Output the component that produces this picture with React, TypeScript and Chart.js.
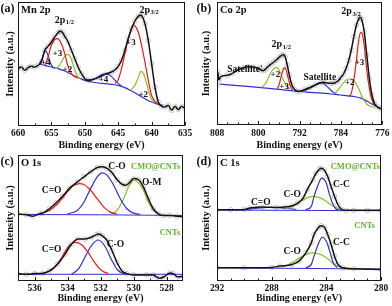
import { useEffect, useRef } from 'react';
import { Chart, registerables } from 'chart.js';

Chart.register(...registerables);

type Pt = [number, number];

// ---------------- (a) Mn 2p ----------------
const mnTicks = [660, 655, 650, 645, 640, 635];
const mnMinor = [657.5, 652.5, 647.5, 642.5, 637.5];
const mnTotal: Pt[] = [
  [660, 172], [659.5, 177], [659, 167], [658.5, 175], [658, 179], [657.5, 177], [657, 182], [656.5, 192],
  [656, 227], [655.5, 239], [655, 252], [654.5, 267], [654, 280], [653.7, 284], [653.4, 282], [653, 269],
  [652.5, 252], [652, 227], [651.5, 202], [651, 177], [650.5, 157], [650, 142], [649.5, 137], [649, 138],
  [648, 145], [647, 155], [646, 162], [645.5, 168], [645, 179], [644.5, 197], [644, 227], [643.5, 262],
  [643, 292], [642.5, 315], [642, 329], [641.7, 332], [641.4, 329], [641, 307], [640.5, 257], [640, 187],
  [639.5, 117], [639, 72], [638.5, 59], [638, 57], [637.5, 62], [637, 47], [636.5, 59], [636, 49],
  [635.5, 59], [635, 52],
];
const mnBackground: Pt[] = [
  [656.8, 187], [656, 182], [655, 177], [654, 172], [653, 165], [652, 155], [651, 145], [650, 137],
  [649, 132], [648, 129], [647, 127], [646, 125], [645, 122], [644, 115], [643, 105], [642, 94],
  [641, 82], [640, 72], [639, 65], [638.3, 62],
];
const mn4High: Pt[] = [
  [656.8, 187], [656.4, 202], [656.1, 219], [655.9, 225], [655.7, 222], [655.4, 205], [655.1, 187],
  [654.8, 177], [654.5, 173],
];
const mn4Low: Pt[] = [
  [650, 137], [649, 139], [648, 147], [647.5, 154], [647, 156], [646.5, 155], [646, 148], [645.5, 138],
  [645, 128], [644.5, 120],
];
const mn3High: Pt[] = [
  [656, 180], [655.5, 207], [655, 242], [654.5, 259], [654.2, 262], [653.9, 260], [653.5, 247],
  [653, 217], [652.5, 178], [652, 157], [651.5, 148], [651, 145],
];
const mn2High: Pt[] = [
  [654.35, 172], [654, 177], [653.5, 192], [653, 209], [652.6, 215], [652.2, 209], [651.8, 187],
  [651.4, 162], [651, 147], [650.6, 140],
];
const mn3Low: Pt[] = [
  [645.5, 127], [645, 139], [644.5, 172], [644, 217], [643.5, 262], [643, 295], [642.8, 303],
  [642.5, 301], [642, 282], [641.5, 242], [641, 192], [640.5, 137], [640, 92], [639.5, 74], [639, 67],
];
const mn2Low: Pt[] = [
  [643.1, 109], [642.5, 122], [642, 145], [641.6, 164], [641.2, 157], [640.8, 132], [640.4, 102],
  [640, 80], [639.5, 71],
];

// ---------------- (b) Co 2p ----------------
const coTicks = [808, 800, 792, 784, 776];
const coMinor = [806, 804, 802, 798, 796, 794, 790, 788, 786, 782, 780, 778];
const coTotal: Pt[] = [
  [808, 72], [807.85, 113], [807.65, 88], [807.3, 98], [806, 102], [805, 108], [804, 118], [803, 125],
  [802, 128], [801, 127], [800, 123], [799.5, 118], [799, 116], [798.5, 122], [798, 130], [797.5, 136],
  [797, 142], [796.5, 148], [796, 156], [795.5, 162], [795.2, 164], [794.8, 158], [794.4, 133],
  [794, 103], [793.5, 73], [793, 60], [792.5, 54], [792, 54], [791, 60], [790, 66], [789, 73],
  [788, 79], [787.5, 81], [787, 80], [786, 78], [785.5, 78], [785, 81], [784.5, 86], [784, 96],
  [783.5, 106], [783, 123], [782.5, 146], [782, 178], [781.5, 218], [781, 253], [780.5, 273],
  [780.3, 276], [780, 270], [779.5, 233], [779, 163], [778.5, 93], [778, 43], [777.5, 18], [777, 8],
  [776.5, 3], [776, 1],
];
const coBaseline: Pt[] = [
  [807.5, 76], [804, 71], [800, 66], [796, 60], [793, 55], [790, 51], [786, 46], [783, 41], [781, 37],
  [780, 33], [779, 25], [778, 16], [777, 8], [776.3, 3],
];
const coSatellite: Pt[] = [
  [792, 54], [791, 57], [790, 63], [789, 72], [788.5, 78], [788, 80], [787.5, 79], [787, 73],
  [786.5, 66], [786, 58], [785.5, 51], [785, 46], [784.5, 43],
];
const co2High: Pt[] = [
  [799.3, 66], [798.5, 80], [798, 96], [797.5, 112], [797, 123], [796.6, 126], [796.2, 123],
  [795.8, 113], [795.3, 93], [794.8, 76], [794.3, 66], [793.8, 60],
];
const co3High: Pt[] = [
  [796.3, 62], [795.9, 78], [795.5, 103], [795.1, 122], [794.9, 125], [794.6, 118], [794.2, 93],
  [793.8, 70], [793.4, 58],
];
const co2Low: Pt[] = [
  [785.5, 46], [785, 51], [784.5, 60], [784, 70], [783.5, 80], [783, 88], [782.5, 91], [782, 91],
  [781.5, 86], [781, 75], [780.5, 60], [780, 41], [779.5, 26], [779, 16], [778.5, 10], [777.5, 6],
];
const co3Low: Pt[] = [
  [782.5, 38], [782, 48], [781.5, 88], [781, 148], [780.6, 203], [780.2, 231], [779.8, 223],
  [779.4, 178], [779, 118], [778.5, 63], [778, 28], [777.5, 13], [777, 8],
];

// ---------------- (c) O 1s ----------------
const oTicks = [536, 534, 532, 530, 528];
const oMinor = [535, 533, 531, 529];
const oCmo: Pt[] = [
  [537, 199], [536.5, 197], [536.1, 193], [535.7, 200], [535.5, 202], [535.1, 215], [534.7, 232],
  [534.3, 252], [533.9, 275], [533.4, 295], [533, 310], [532.6, 325], [532.2, 338], [531.9, 340],
  [531.6, 335], [531.3, 322], [531, 302], [530.7, 288], [530.45, 285], [530.2, 295], [530, 305],
  [529.7, 302], [529.4, 280], [529.1, 245], [528.8, 215], [528.5, 200], [528.2, 195], [527.8, 195],
  [527.4, 193], [527, 192],
];
const oCmoCdO: Pt[] = [
  [535.7, 200], [535.1, 210], [534.6, 230], [534.1, 260], [533.7, 282], [533.3, 290], [533, 287],
  [532.6, 270], [532.2, 245], [531.8, 220], [531.4, 205], [531, 199],
];
const oCmoCO: Pt[] = [
  [534, 200], [533.4, 210], [533, 235], [532.6, 275], [532.2, 310], [531.9, 322], [531.6, 315],
  [531.2, 285], [530.8, 245], [530.4, 215], [530, 202], [529.6, 198],
];
const oCmoOM: Pt[] = [
  [531.4, 198], [531, 210], [530.6, 245], [530.3, 280], [530, 300], [529.65, 290], [529.4, 270],
  [529.1, 235], [528.8, 210], [528.4, 199],
];
const oCmoBase: Pt[] = [[537, 198], [532, 197], [527, 195]];
const oCnt: Pt[] = [
  [537, 22], [536.5, 20], [536, 22], [535.5, 23], [535.1, 30], [534.6, 50], [534.15, 80],
  [533.75, 110], [533.35, 125], [532.95, 125], [532.55, 130], [532.25, 138], [532.1, 140],
  [531.9, 135], [531.6, 120], [531.3, 90], [531, 55], [530.7, 30], [530.4, 22], [530, 18],
  [529.2, 18], [528.8, 18], [528.6, 12], [528.4, 8], [528.1, 14], [527.8, 24], [527.6, 22],
  [527.3, 12], [527, 14],
];
const oCntCdO: Pt[] = [
  [535.5, 22], [534.9, 35], [534.35, 70], [533.95, 102], [533.55, 115], [533.15, 108], [532.75, 85],
  [532.35, 55], [531.95, 32], [531.55, 22],
];
const oCntCO: Pt[] = [
  [533.75, 20], [533.35, 35], [532.95, 70], [532.55, 105], [532.15, 122], [531.75, 105],
  [531.35, 65], [530.95, 32], [530.5, 20],
];
const oCntBase: Pt[] = [[537, 20], [527, 20]];

// ---------------- (d) C 1s ----------------
const cTicks = [292, 288, 284, 280];
const cMinor = [291, 290, 289, 287, 286, 285, 283, 282, 281];
const cCmo: Pt[] = [
  [292, 213], [291, 213], [290, 214], [289.6, 218], [288.7, 221], [287.7, 220], [287, 221],
  [286.5, 225], [286.1, 233], [285.7, 248], [285.4, 273], [285, 303], [284.75, 323], [284.5, 335],
  [284.4, 338], [284.15, 333], [283.9, 313], [283.65, 283], [283.4, 253], [283.15, 228], [282.9, 215],
  [282.55, 211], [282, 211], [281, 211], [280, 211],
];
const cCmoCC: Pt[] = [
  [285.5, 213], [285.1, 223], [284.9, 253], [284.6, 288], [284.35, 308], [284, 293], [283.8, 263],
  [283.55, 233], [283.3, 215], [283, 211],
];
const cCmoCO: Pt[] = [
  [287, 215], [286.2, 228], [285.6, 245], [285, 253], [284.4, 248], [283.9, 235], [283.4, 221],
  [282.9, 213],
];
const cCmoCdO: Pt[] = [[289.9, 213], [288.9, 218], [287.9, 220], [287, 217], [286.2, 214]];
const cCmoBase: Pt[] = [[292, 212], [280, 210]];
const cCnt: Pt[] = [
  [292, 38], [290, 38], [288, 39], [287.4, 43], [286.5, 48], [286, 58], [285.5, 83], [285.1, 113],
  [284.9, 138], [284.6, 158], [284.4, 165], [284.15, 161], [283.9, 138], [283.65, 108], [283.4, 73],
  [283.15, 48], [282.8, 38], [282, 35], [280, 33],
];
const cCntCC: Pt[] = [
  [285.5, 38], [285.1, 48], [284.9, 73], [284.55, 113], [284.3, 130], [284, 118], [283.75, 88],
  [283.5, 53], [283.2, 38],
];
const cCntCO: Pt[] = [
  [287.2, 40], [286.5, 53], [285.75, 73], [285, 83], [284.4, 78], [283.9, 65], [283.4, 48],
  [282.8, 37],
];
const cCntBase: Pt[] = [[292, 38], [280, 34]];

// ---------------- annotations (text at data coordinates) ----------------
type Kind = 'peak' | 'state' | 'name' | 'sample';
interface Label { t: string; sub?: string; x: number; y: number; kind: Kind }

const mnLabels: Label[] = [
  { t: '2p', sub: '1/2', x: 653.1, y: 318, kind: 'peak' },
  { t: '2p', sub: '3/2', x: 640.4, y: 348, kind: 'peak' },
  { t: '+3', x: 654.1, y: 217, kind: 'state' },
  { t: '+4', x: 655.85, y: 189, kind: 'state' },
  { t: '+2', x: 652.6, y: 169, kind: 'state' },
  { t: '+4', x: 647.2, y: 140, kind: 'state' },
  { t: '+3', x: 643.1, y: 249, kind: 'state' },
  { t: '+2', x: 641.25, y: 95, kind: 'state' },
];
const coLabels: Label[] = [
  { t: '2p', sub: '1/2', x: 795.6, y: 195, kind: 'peak' },
  { t: '2p', sub: '3/2', x: 782.1, y: 293, kind: 'peak' },
  { t: "Satellite'", x: 802.6, y: 118, kind: 'name' },
  { t: 'Satellite', x: 788.1, y: 96, kind: 'name' },
  { t: '+2', x: 796.7, y: 103, kind: 'state' },
  { t: '+3', x: 795.0, y: 68, kind: 'state' },
  { t: '+2', x: 782.3, y: 80, kind: 'state' },
  { t: '+3', x: 780.4, y: 140, kind: 'state' },
];
const oLabels: Label[] = [
  { t: 'C=O', x: 534.96, y: 268, kind: 'name' },
  { t: 'C-O', x: 531.0, y: 340, kind: 'name' },
  { t: 'O-M', x: 528.9, y: 292, kind: 'name' },
  { t: 'CMO@CNTs', x: 528.66, y: 340, kind: 'sample' },
  { t: 'CNTs', x: 527.79, y: 142, kind: 'sample' },
  { t: 'C=O', x: 534.96, y: 95, kind: 'name' },
  { t: 'C-O', x: 531.1, y: 108, kind: 'name' },
];
const cLabels: Label[] = [
  { t: 'CMO@CNTs', x: 281.88, y: 341, kind: 'sample' },
  { t: 'C-C', x: 282.9, y: 288, kind: 'name' },
  { t: 'C-O', x: 286.5, y: 258, kind: 'name' },
  { t: 'C=O', x: 288.8, y: 235, kind: 'name' },
  { t: 'CNTs', x: 281.2, y: 165, kind: 'sample' },
  { t: 'C-C', x: 282.9, y: 115, kind: 'name' },
  { t: 'C-O', x: 286.5, y: 88, kind: 'name' },
];

// ---------------- styling ----------------
const SERIF = '"Liberation Serif", "Times New Roman", serif';
const BLACK = '#111111';
const RED = '#f01818';
const BLUE = '#3030d8';
const GREEN = '#86c226';
const SAMPLE_GREEN = '#5fb62a';
const GREY = 'rgba(145,145,145,0.6)';

interface Series { data: Pt[]; color: string; width: number; raw?: boolean }
interface Panel {
  box: { left: number; top: number; w: number; h: number };
  area: { l: number; r: number; t: number; b: number };
  xMin: number; xMax: number; yMin: number; yMax: number;
  ticks: number[]; minor: number[];
  tickPad: number;
  series: Series[];
  labels: Label[];
  letter: string; name: string;
}

const line = (data: Pt[], color: string, width = 1.2): Series => ({ data, color, width });
const rawPts = (data: Pt[]): Series => ({ data, color: GREY, width: 0.8, raw: true });

const PANELS: Panel[] = [
  {
    box: { left: 0, top: 0, w: 196, h: 153 },
    area: { l: 18, r: 185, t: 2, b: 126 },
    xMin: 635, xMax: 660, yMin: 0, yMax: 372,
    ticks: mnTicks, minor: mnMinor, tickPad: 2.3,
    series: [
      line(mnTotal, BLACK, 1.5),
      line(mn3High, RED), line(mn3Low, RED),
      line(mn2High, GREEN), line(mn2Low, GREEN),
      line(mn4High, BLUE), line(mn4Low, BLUE), line(mnBackground, BLUE),
      rawPts(mnTotal),
    ],
    labels: mnLabels, letter: '(a)', name: 'Mn 2p',
  },
  {
    box: { left: 196, top: 0, w: 196, h: 153 },
    area: { l: 21, r: 187, t: 2, b: 125 },
    xMin: 776, xMax: 808, yMin: -47, yMax: 322,
    ticks: coTicks, minor: coMinor, tickPad: 2.6,
    series: [
      line(coTotal, BLACK, 1.5),
      line(co3High, RED), line(co3Low, RED),
      line(co2High, GREEN), line(co2Low, GREEN),
      line(coSatellite, BLUE), line(coBaseline, BLUE),
      rawPts(coTotal),
    ],
    labels: coLabels, letter: '(b)', name: 'Co 2p',
  },
  {
    box: { left: 0, top: 150, w: 196, h: 156 },
    area: { l: 18, r: 183, t: 5, b: 131 },
    xMin: 527, xMax: 537, yMin: 0, yMax: 375,
    ticks: oTicks, minor: oMinor, tickPad: 2.3,
    series: [
      line(oCmo, BLACK, 1.5), line(oCnt, BLACK, 1.5),
      line(oCmoCdO, RED), line(oCntCdO, RED),
      line(oCmoCO, BLUE), line(oCntCO, BLUE),
      line(oCmoOM, GREEN),
      line(oCmoBase, BLUE, 1), line(oCntBase, BLUE, 1),
      rawPts(oCmo), rawPts(oCnt),
    ],
    labels: oLabels, letter: '(c)', name: 'O 1s',
  },
  {
    box: { left: 196, top: 150, w: 196, h: 156 },
    area: { l: 21, r: 185, t: 5, b: 131 },
    xMin: 280, xMax: 292, yMin: -2, yMax: 378,
    ticks: cTicks, minor: cMinor, tickPad: 2.3,
    series: [
      line(cCmo, BLACK, 1.5), line(cCnt, BLACK, 1.5),
      line(cCmoCC, BLUE), line(cCntCC, BLUE),
      line(cCmoCO, GREEN), line(cCntCO, GREEN),
      line(cCmoCdO, BLUE, 1),
      line(cCmoBase, BLUE, 1), line(cCntBase, BLUE, 1),
      rawPts(cCmo), rawPts(cCnt),
    ],
    labels: cLabels, letter: '(d)', name: 'C 1s',
  },
];

const decorPlugin = {
  id: 'panelDecor',
  afterDatasetsDraw(chart: any, _args: any, opts: any) {
    const p: Panel = opts.panel;
    const { ctx, chartArea: a, scales } = chart;
    const xs = scales.x;
    const ys = scales.y;
    ctx.save();
    // frame
    ctx.strokeStyle = '#1a1a1a';
    ctx.lineWidth = 1;
    ctx.strokeRect(Math.round(a.left) + 0.5, Math.round(a.top) + 0.5,
      Math.round(a.right - a.left) - 1, Math.round(a.bottom - a.top) - 1);
    // inward tick marks
    const bottom = Math.round(a.bottom) - 0.5;
    ctx.beginPath();
    for (const v of p.ticks) {
      const px = Math.round(xs.getPixelForValue(v)) + 0.5;
      ctx.moveTo(px, bottom); ctx.lineTo(px, bottom - 3.5);
    }
    for (const v of p.minor) {
      const px = Math.round(xs.getPixelForValue(v)) + 0.5;
      ctx.moveTo(px, bottom); ctx.lineTo(px, bottom - 2);
    }
    ctx.stroke();
    // annotations
    ctx.textBaseline = 'middle';
    ctx.textAlign = 'left';
    for (const l of p.labels) {
      const px = xs.getPixelForValue(l.x);
      const py = ys.getPixelForValue(l.y);
      let size = 9;
      let color = BLACK;
      if (l.kind === 'peak') size = 10;
      if (l.kind === 'name') size = 9.5;
      if (l.kind === 'sample') { size = 8.5; color = SAMPLE_GREEN; }
      ctx.fillStyle = color;
      ctx.font = `bold ${size}px ${SERIF}`;
      const w1 = ctx.measureText(l.t).width;
      let w2 = 0;
      const subSize = 6.5;
      if (l.sub) {
        ctx.font = `bold ${subSize}px ${SERIF}`;
        w2 = ctx.measureText(l.sub).width;
      }
      const x0 = px - (w1 + w2) / 2;
      ctx.font = `bold ${size}px ${SERIF}`;
      ctx.fillText(l.t, x0, py);
      if (l.sub) {
        ctx.font = `bold ${subSize}px ${SERIF}`;
        ctx.fillText(l.sub, x0 + w1 + 0.5, py + 2.5);
      }
    }
    // panel letter and element
    ctx.fillStyle = BLACK;
    ctx.font = `bold 12px ${SERIF}`;
    ctx.fillText(p.letter, 0.5, a.top + 6.5);
    ctx.font = `bold 10.5px ${SERIF}`;
    ctx.fillText(p.name, a.left + 3, a.top + 8.5);
    ctx.restore();
  },
};

function buildConfig(p: Panel): any {
  const datasets = p.series.map((s) => ({
    data: s.data.map(([x, y]) => ({ x, y })),
    borderColor: s.color,
    borderWidth: s.width,
    showLine: !s.raw,
    pointRadius: s.raw ? 2.3 : 0,
    pointHoverRadius: 0,
    pointBorderWidth: s.raw ? 0.8 : 0,
    pointBorderColor: s.raw ? GREY : s.color,
    pointBackgroundColor: 'rgba(255,255,255,0)',
    cubicInterpolationMode: 'monotone',
    fill: false,
  }));
  const tickFont = { family: SERIF, weight: 'bold', size: 9.5 };
  return {
    type: 'line',
    data: { datasets },
    plugins: [decorPlugin],
    options: {
      animation: false,
      responsive: false,
      devicePixelRatio: 1,
      events: [],
      layout: {
        autoPadding: false,
        padding: { left: 0, top: p.area.t, right: p.box.w - p.area.r, bottom: 0 },
      },
      plugins: {
        legend: { display: false },
        tooltip: { enabled: false },
        panelDecor: { panel: p },
      },
      scales: {
        x: {
          type: 'linear',
          min: p.xMin,
          max: p.xMax,
          reverse: true,
          afterBuildTicks: (s: any) => { s.ticks = p.ticks.map((v) => ({ value: v })); },
          afterFit: (s: any) => { s.height = p.box.h - p.area.b; },
          grid: { display: false, drawTicks: false },
          border: { display: false },
          ticks: {
            font: tickFont,
            color: BLACK,
            padding: p.tickPad,
            maxRotation: 0,
            autoSkip: false,
            callback: (v: any) => String(v),
          },
          title: {
            display: true,
            text: 'Binding energy (eV)',
            color: BLACK,
            font: { family: SERIF, weight: 'bold', size: 10 },
            padding: { top: 0, bottom: 2 },
          },
        },
        y: {
          type: 'linear',
          min: p.yMin,
          max: p.yMax,
          afterFit: (s: any) => { s.width = p.area.l; },
          grid: { display: false, drawTicks: false },
          border: { display: false },
          ticks: { display: false },
          title: {
            display: true,
            text: 'Intensity (a.u.)',
            color: BLACK,
            font: { family: SERIF, weight: 'bold', size: 10.5 },
            padding: { top: 3.7, bottom: 0 },
          },
        },
      },
    },
  };
}

function PanelChart({ p }: { p: Panel }) {
  const ref = useRef<HTMLCanvasElement>(null);
  useEffect(() => {
    if (!ref.current) return;
    const chart = new Chart(ref.current, buildConfig(p));
    return () => chart.destroy();
  }, [p]);
  return (
    <canvas
      ref={ref}
      width={p.box.w}
      height={p.box.h}
      style={{ position: 'absolute', left: p.box.left, top: p.box.top, width: p.box.w, height: p.box.h }}
    />
  );
}

export default function App() {
  return (
    <div style={{ position: 'absolute', left: 0, top: 0, width: 392, height: 306, background: '#ffffff', overflow: 'hidden' }}>
      {PANELS.map((p, i) => (
        <PanelChart key={i} p={p} />
      ))}
    </div>
  );
}
